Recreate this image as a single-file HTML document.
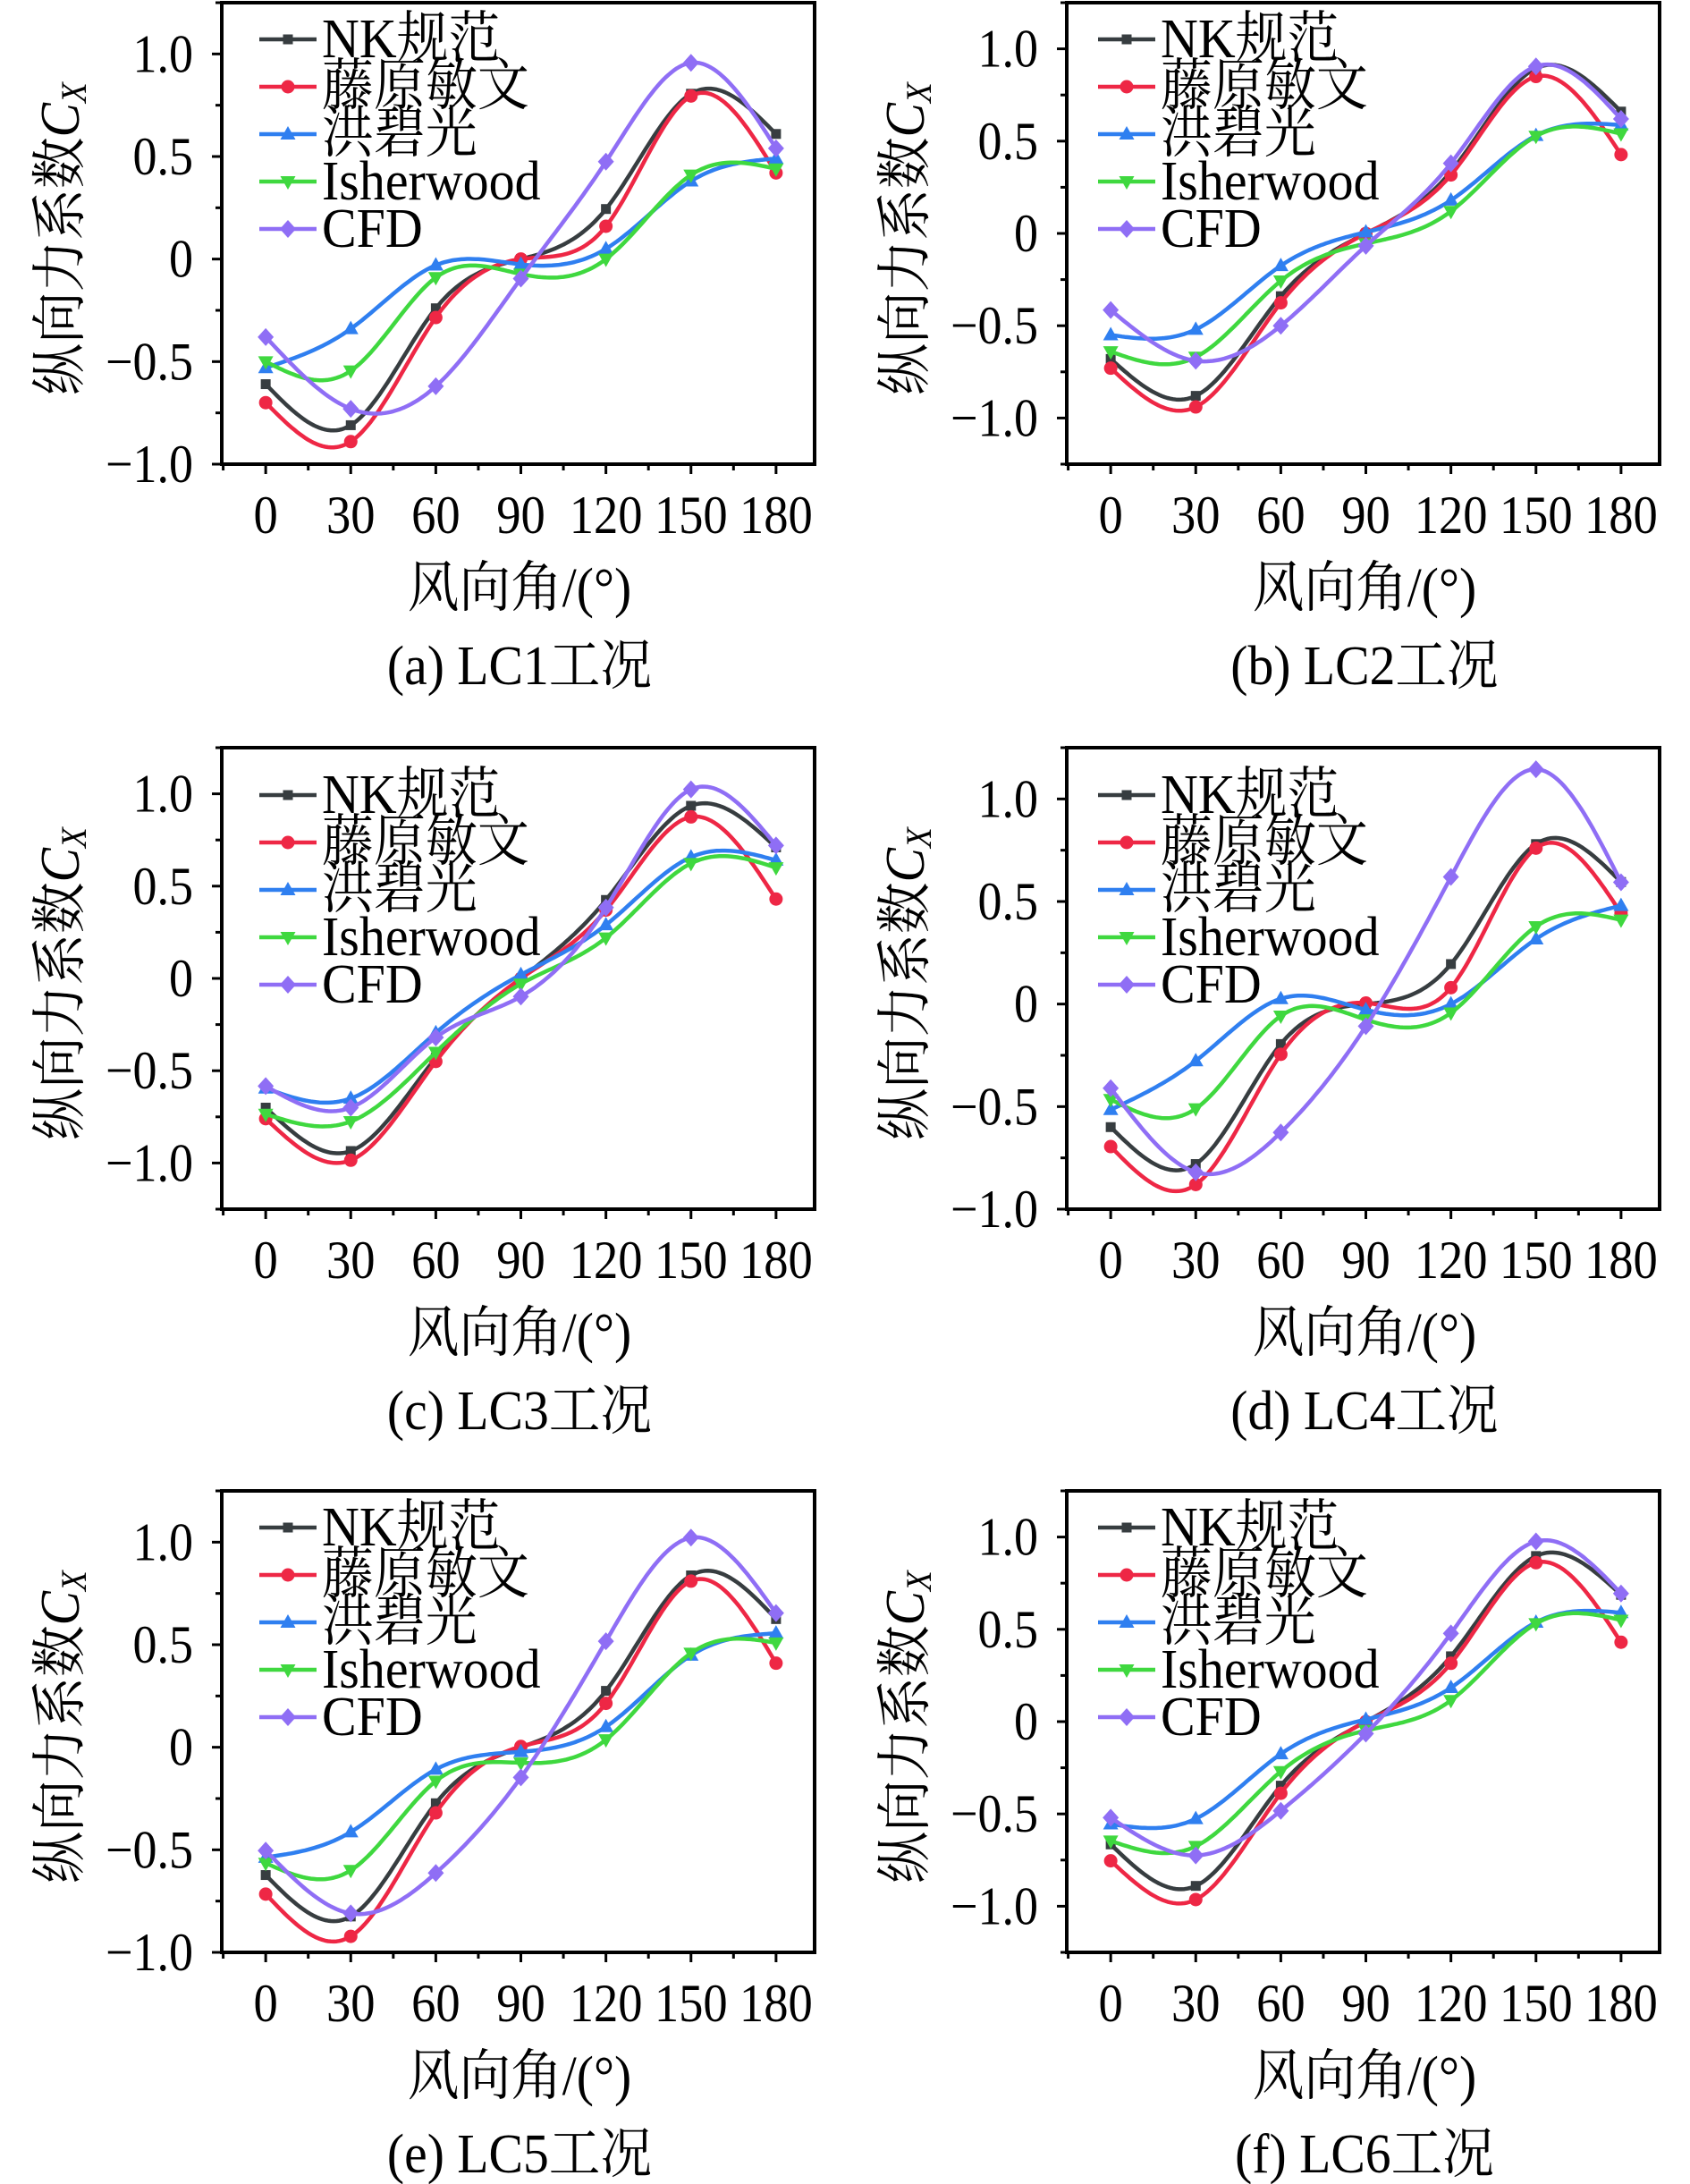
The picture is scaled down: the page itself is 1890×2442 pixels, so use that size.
<!DOCTYPE html>
<html><head><meta charset="utf-8"><style>
html,body{margin:0;padding:0;background:#fff;}
svg{display:block;}
text{font-family:"Liberation Serif","Noto Serif CJK SC","Noto Sans CJK SC",serif;fill:#000;}
</style></head><body>
<svg id="fig" width="1890" height="2442" viewBox="0 0 1890 2442" xmlns="http://www.w3.org/2000/svg"></svg>
<script>
const angles = [0, 30, 60, 90, 120, 150, 180];
const xTickLabels = ["0","30","60","90","120","150","180"];
const seriesNames = ["NK规范","藤原敏文","洪碧光","Isherwood","CFD"];
const panelCaptions = ["(a) LC1工况","(b) LC2工况","(c) LC3工况","(d) LC4工况","(e) LC5工况","(f) LC6工况"];

const lc1_nk   = [-0.61,-0.81,-0.24,0.00,0.244,0.806,0.61];
const lc1_fuji = [-0.70,-0.89,-0.285,0.00,0.16,0.795,0.42];
const lc1_hong = [-0.53,-0.34,-0.03,-0.026,0.05,0.38,0.49];
const lc1_ish  = [-0.50,-0.545,-0.09,-0.073,0.00,0.41,0.44];
const lc1_cfd  = [-0.38,-0.73,-0.62,-0.095,0.475,0.957,0.54];

const lc2_nk   = [-0.68,-0.88,-0.34,0.00,0.335,0.895,0.66];
const lc2_fuji = [-0.73,-0.94,-0.376,0.00,0.317,0.85,0.427];
const lc2_hong = [-0.55,-0.52,-0.175,0.007,0.18,0.53,0.587];
const lc2_ish  = [-0.64,-0.67,-0.257,-0.055,0.12,0.527,0.54];
const lc2_cfd  = [-0.415,-0.69,-0.50,-0.067,0.38,0.905,0.62];

const lc3_nk   = [-0.70,-0.935,-0.43,0.00,0.425,0.935,0.71];
const lc3_fuji = [-0.76,-0.985,-0.45,0.00,0.37,0.875,0.43];
const lc3_hong = [-0.595,-0.65,-0.295,0.02,0.29,0.657,0.64];
const lc3_ish  = [-0.735,-0.775,-0.40,-0.03,0.22,0.623,0.60];
const lc3_cfd  = [-0.583,-0.70,-0.32,-0.098,0.384,1.024,0.72];

const lc4_nk   = [-0.60,-0.78,-0.195,0.00,0.195,0.78,0.595];
const lc4_fuji = [-0.695,-0.88,-0.245,0.005,0.08,0.76,0.443];
const lc4_hong = [-0.515,-0.277,0.026,-0.028,0.00,0.317,0.48];
const lc4_ish  = [-0.465,-0.51,-0.058,-0.076,-0.043,0.378,0.41];
const lc4_cfd  = [-0.41,-0.82,-0.626,-0.108,0.62,1.145,0.594];

const lc5_nk   = [-0.623,-0.825,-0.273,0.00,0.275,0.838,0.625];
const lc5_fuji = [-0.716,-0.922,-0.32,0.004,0.214,0.81,0.41];
const lc5_hong = [-0.537,-0.413,-0.108,-0.022,0.10,0.448,0.556];
const lc5_ish  = [-0.565,-0.60,-0.165,-0.076,0.037,0.459,0.509];
const lc5_cfd  = [-0.504,-0.81,-0.613,-0.147,0.517,1.022,0.654];

const lc6_nk   = [-0.665,-0.89,-0.347,0.00,0.354,0.897,0.687];
const lc6_fuji = [-0.754,-0.964,-0.388,0.00,0.316,0.861,0.43];
const lc6_hong = [-0.555,-0.526,-0.175,0.012,0.184,0.538,0.59];
const lc6_ish  = [-0.646,-0.675,-0.27,-0.048,0.115,0.531,0.55];
const lc6_cfd  = [-0.52,-0.725,-0.483,-0.065,0.478,0.976,0.694];

const yMin = [-1, -1.25, -1.25, -1, -1, -1.25];
const yMax = [1.25, 1.25, 1.25, 1.25, 1.25, 1.25];

const panelData = [
  [lc1_nk,lc1_fuji,lc1_hong,lc1_ish,lc1_cfd],
  [lc2_nk,lc2_fuji,lc2_hong,lc2_ish,lc2_cfd],
  [lc3_nk,lc3_fuji,lc3_hong,lc3_ish,lc3_cfd],
  [lc4_nk,lc4_fuji,lc4_hong,lc4_ish,lc4_cfd],
  [lc5_nk,lc5_fuji,lc5_hong,lc5_ish,lc5_cfd],
  [lc6_nk,lc6_fuji,lc6_hong,lc6_ish,lc6_cfd]
];

const colors = ["#373d40","#ee2745","#2f7ff0","#3fd83f","#8f6ef5"];
const markerKinds = ["square","circle","triangle","tridown","diamond"];
const NS = "http://www.w3.org/2000/svg";
const svg = document.getElementById("fig");

function el(tag, attrs, parent){
  const e = document.createElementNS(NS, tag);
  for (const k in attrs) e.setAttribute(k, attrs[k]);
  (parent||svg).appendChild(e);
  return e;
}
function stext(parent, x, y, size, sx, anchor){
  return el("text",{x:0,y:0,"font-size":size,"text-anchor":anchor,transform:`translate(${x},${y}) scale(${sx},1)`},parent);
}

function spline(xs, ys){
  const n = xs.length, h=[], a=[], l=[1], mu=[0], z=[0], c=new Array(n).fill(0), b=[], d=[];
  for(let i=0;i<n-1;i++) h.push(xs[i+1]-xs[i]);
  for(let i=1;i<n-1;i++) a[i]=3/h[i]*(ys[i+1]-ys[i])-3/h[i-1]*(ys[i]-ys[i-1]);
  for(let i=1;i<n-1;i++){ l[i]=2*(xs[i+1]-xs[i-1])-h[i-1]*mu[i-1]; mu[i]=h[i]/l[i]; z[i]=(a[i]-h[i-1]*z[i-1])/l[i]; }
  l[n-1]=1; z[n-1]=0;
  for(let j=n-2;j>=0;j--){ c[j]=z[j]-mu[j]*c[j+1]; b[j]=(ys[j+1]-ys[j])/h[j]-h[j]*(c[j+1]+2*c[j])/3; d[j]=(c[j+1]-c[j])/(3*h[j]); }
  return function(x){
    let i=Math.min(n-2, Math.max(0, Math.floor((x-xs[0])/h[0])));
    const dx=x-xs[i];
    return ys[i]+b[i]*dx+c[i]*dx*dx+d[i]*dx*dx*dx;
  };
}

function drawMarker(g, kind, cx, cy, color){
  let m;
  if(kind==="square") m = el("rect",{x:cx-5.5,y:cy-5.5,width:11,height:11,fill:color},g);
  else if(kind==="circle") m = el("circle",{cx:cx,cy:cy,r:7.5,fill:color},g);
  else if(kind==="triangle") m = el("polygon",{points:`${cx},${cy-9} ${cx-8.5},${cy+6} ${cx+8.5},${cy+6}`,fill:color},g);
  else if(kind==="tridown") m = el("polygon",{points:`${cx},${cy+9} ${cx-8.5},${cy-6} ${cx+8.5},${cy-6}`,fill:color},g);
  else m = el("polygon",{points:`${cx},${cy-10} ${cx+9},${cy} ${cx},${cy+10} ${cx-9},${cy}`,fill:color},g);
  return m;
}

const colX = [0, 945];
const rowY = [0, 833, 1664];
const L=248, R=911, T=3, B=519;
const xMin=-15.5, xMax=193.6;

for(let p=0;p<6;p++){
  const ox = colX[p%2], oy = rowY[Math.floor(p/2)];
  const g = el("g",{transform:`translate(${ox},${oy})`});
  
  
  const xs = v => L + (v - xMin)/(xMax - xMin)*(R - L);
  const ys = v => B - (v - yMin[p])/(yMax[p] - yMin[p])*(B - T);

  const data = panelData[p];
  for(let s=0;s<5;s++){
    const f = spline(angles, data[s]);
    let d = "";
    for(let x=angles[0]; x<=angles[angles.length-1]+0.001; x+=1){
      d += (d?"L":"M") + xs(x).toFixed(1) + "," + ys(f(x)).toFixed(1);
    }
    const path = el("path",{d:d,fill:"none",stroke:colors[s],"stroke-width":4.5,"stroke-linejoin":"round"},g);
    
    
    for(let i=0;i<angles.length;i++){
      const m = drawMarker(g, markerKinds[s], xs(angles[i]), ys(data[s][i]), colors[s]);
      
      
    }
  }

  const frame = el("rect",{x:L,y:T,width:R-L,height:B-T,fill:"none",stroke:"#000","stroke-width":4},g);
  
  

  for(let v=Math.ceil(yMin[p]/0.25)*0.25; v<=yMax[p]+1e-9; v+=0.25){
    const y = ys(v);
    const major = Math.abs(Math.round(v*2)-v*2)<1e-6;
    el("line",{x1:L,x2:L-(major?11:7),y1:y,y2:y,stroke:"#000","stroke-width":3},g);
    if(major && v<=1.0001 && v>=-1.0001){
      const lbl = Math.abs(v)<1e-9 ? "0" : (v<0?"\u2212":"")+Math.abs(v).toFixed(1);
      const t = stext(g, 216, y+20, 60, 0.9, "end");
      t.textContent = lbl;
      
      
    }
  }
  for(let v=-15; v<=xMax; v+=15){
    const x = xs(v);
    const major = v%30===0 && v>=0;
    el("line",{x1:x,x2:x,y1:B,y2:B+(major?11:7),stroke:"#000","stroke-width":3},g);
  }
  for(let i=0;i<angles.length;i++){
    const t = stext(g, xs(angles[i]), 596, 60, 0.91, "middle");
    t.textContent = xTickLabels[i];
    
    
  }

  const xt = stext(g, 581, 678, 62, 0.93, "middle");
  xt.textContent = "风向角/(°)";
  
  

  const yt = el("text",{x:0,y:0,"text-anchor":"middle","font-size":62,transform:"translate(88,267) rotate(-90) scale(0.93,1)"},g);
  
  
  const t1 = el("tspan",{},yt); t1.textContent = "纵向力系数";
  const t2 = el("tspan",{"font-style":"italic"},yt); t2.textContent = "C";
  const t3 = el("tspan",{"font-style":"italic","font-size":40,dy:8}, yt); t3.textContent = "X";

  const cap = stext(g, 581, 765, 62, 0.93, "middle");
  cap.textContent = panelCaptions[p];
  
  

  const lg = el("g",{},g);
  
  
  const ly0 = (p===2||p===3) ? 56 : 44;
  const lx0 = (p%2===0) ? 290 : 283;
  for(let s=0;s<5;s++){
    const cy = ly0 + s*53;
    const item = el("g",{},lg);
    
    
    el("line",{x1:lx0,x2:lx0+64,y1:cy,y2:cy,stroke:colors[s],"stroke-width":4.5},item);
    drawMarker(item, markerKinds[s], lx0+32, cy, colors[s]);
    const t = stext(item, lx0+70, cy+20, 63, 0.92, "start");
    t.textContent = seriesNames[s];
  }
}
</script>
</body></html>
